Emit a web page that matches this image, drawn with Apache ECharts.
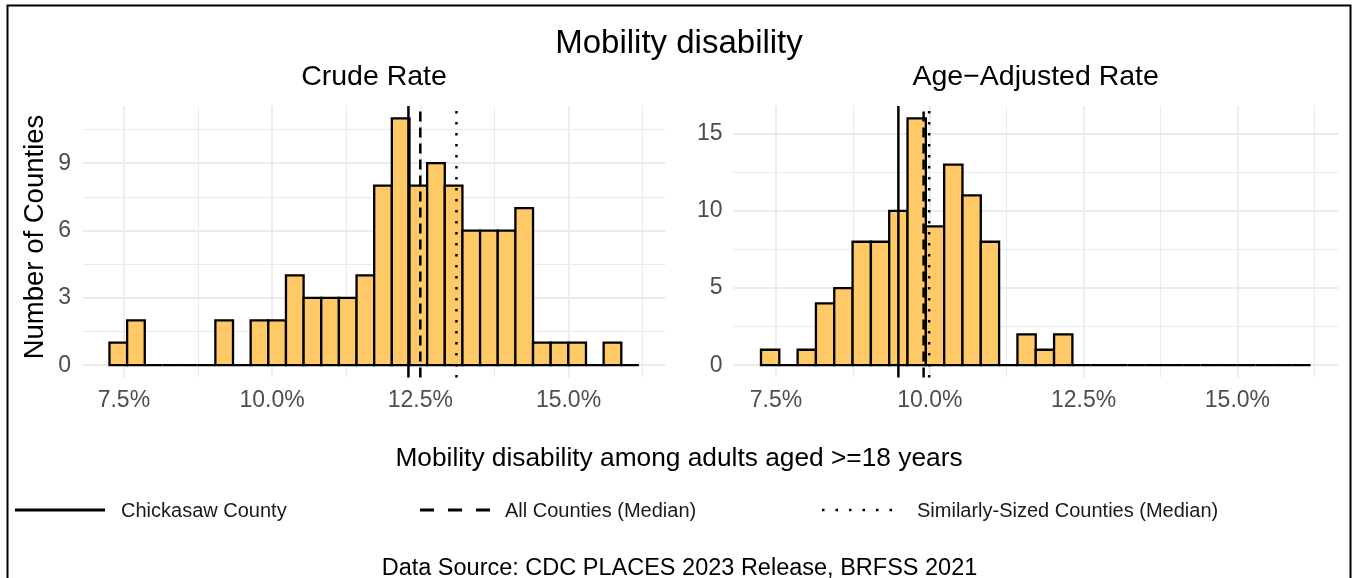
<!DOCTYPE html>
<html><head><meta charset="utf-8">
<script src="https://cdn.jsdelivr.net/npm/echarts@6/dist/echarts.min.js"></script>
<style>html,body{margin:0;padding:0;background:#fff}#c{width:1353px;height:578px}</style>
</head><body><div id="c"></div>
<script>
// ---- data ----
const binStart = 7.257;          // left edge of first histogram bin (%)
const binWidth = 0.2977;         // bin width (%)
const crudeCounts  = [1,2,0,0,0,0,2,0,2,2,4,3,3,3,4,8,11,8,9,8,6,6,6,7,1,1,1,0,1,0];
const ageAdjCounts = [1,0,1,4,5,8,8,10,16,9,13,11,8,0,2,1,2,0,0,0,0,0,0,0,0,0,0,0,0,0];
const refNames = ['Chickasaw County', 'All Counties (Median)', 'Similarly-Sized Counties (Median)'];
const crudeRefs  = [12.30, 12.50, 13.11];
const ageAdjRefs = [9.49, 9.90, 9.99];
const xTicks = [7.5, 10, 12.5, 15];
const xMinorTicks = [8.75, 11.25, 13.75, 16.25];
const crudeYTicks = [0, 3, 6, 9];
const crudeYMinor = [1.5, 4.5, 7.5, 10.5];
const ageYTicks = [0, 5, 10, 15];
const ageYMinor = [2.5, 7.5, 12.5];
const panelTitles = ['Crude Rate', 'Age\u2212Adjusted Rate'];

// ---- styling / layout ----
const FONT = 'Liberation Sans, Arial, Helvetica, sans-serif';
const GRIDC = '#EBEBEB';
const nBins = crudeCounts.length;
const lo = binStart, hi = binStart + nBins * binWidth;
const xMin = lo - 0.05 * (hi - lo), xMax = hi + 0.05 * (hi - lo);
const crudeMaxY = Math.max(...crudeCounts), ageMaxY = Math.max(...ageAdjCounts);
const yRange = m => [-0.05 * m, m * 1.05];
const dashes = ['solid', [10, 6], [2.5, 8.5]];

function xAxisMajor(g) {
  return {type:'value', gridIndex:g, min:xMin, max:xMax,
    axisLine:{show:false}, axisTick:{show:false, customValues:xTicks},
    axisLabel:{customValues:xTicks, formatter:v=>v.toFixed(1)+'%', color:'#4D4D4D', fontSize:23, fontFamily:FONT, margin:12},
    splitLine:{show:true, lineStyle:{color:GRIDC, width:1.8}}};
}
function xAxisMinor(g) {
  return {type:'value', gridIndex:g, min:xMin, max:xMax, position:'bottom',
    axisLine:{show:false}, axisTick:{show:false, customValues:xMinorTicks},
    axisLabel:{show:false, customValues:xMinorTicks},
    splitLine:{show:true, lineStyle:{color:GRIDC, width:1}}};
}
function yAxisMajor(g, range, ticks, margin) {
  return {type:'value', gridIndex:g, min:range[0], max:range[1],
    axisLine:{show:false}, axisTick:{show:false, customValues:ticks},
    axisLabel:{customValues:ticks, color:'#4D4D4D', fontSize:23, fontFamily:FONT, margin:margin},
    splitLine:{show:true, lineStyle:{color:GRIDC, width:1.8}}};
}
function yAxisMinor(g, range, ticks) {
  return {type:'value', gridIndex:g, min:range[0], max:range[1], position:'left',
    axisLine:{show:false}, axisTick:{show:false, customValues:ticks},
    axisLabel:{show:false, customValues:ticks},
    splitLine:{show:true, lineStyle:{color:GRIDC, width:1}}};
}
function histSeries(counts, xi, yi) {
  const data = counts.map((c, i) => [binStart + i * binWidth, binStart + (i + 1) * binWidth, c]);
  return {type:'custom', xAxisIndex:xi, yAxisIndex:yi, data:data, z:3, silent:true,
    encode:{x:[0,1], y:2},
    renderItem(params, api) {
      const p0 = api.coord([api.value(0), api.value(2)]);
      const p1 = api.coord([api.value(1), 0]);
      return {type:'rect', shape:{x:p0[0], y:p0[1], width:p1[0]-p0[0], height:p1[1]-p0[1]},
        style:{fill:'#FEC966', stroke:'#000', lineWidth:2.3}};
    }};
}
function refSeries(vals, xi, yi, range) {
  return vals.map((v, k) => ({type:'custom', name:refNames[k], xAxisIndex:xi, yAxisIndex:yi, z:4, silent:true,
    data:[[v]], encode:{x:0},
    renderItem(params, api) {
      const a = api.coord([api.value(0), range[0]]);
      const b = api.coord([api.value(0), range[1]]);
      return {type:'line', shape:{x1:a[0], y1:a[1], x2:b[0], y2:b[1]},
        style:{stroke:'#000', lineWidth:2.5, lineDash: dashes[k] === 'solid' ? null : dashes[k]}};
    }}));
}

const crudeRange = yRange(crudeMaxY), ageRange = yRange(ageMaxY);

const legendY = 510;
const legendItems = [
  {x1:15, x2:105, tx:121, dash:null, w:3},
  {x1:420, x2:492, tx:505, dash:[14,14], w:3},
  {x1:822, x2:902, tx:917, dash:[2.5,11], w:2.5}
];
const graphics = [
  {type:'rect', shape:{x:7.5, y:5.5, width:1343, height:600}, style:{fill:null, stroke:'#000', lineWidth:2}, z:10},
  {type:'text', x:679, y:43.5, style:{text:'Mobility disability', font:'33px '+FONT, fill:'#000', align:'center', verticalAlign:'middle'}},
  {type:'text', x:374, y:77.5, style:{text:panelTitles[0], font:'28.5px '+FONT, fill:'#000', align:'center', verticalAlign:'middle'}},
  {type:'text', x:1035.7, y:77.5, style:{text:panelTitles[1], font:'28.5px '+FONT, fill:'#000', align:'center', verticalAlign:'middle'}},
  {type:'text', x:35, y:237, rotation:Math.PI/2, style:{text:'Number of Counties', font:'27.5px '+FONT, fill:'#000', align:'center', verticalAlign:'middle'}},
  {type:'text', x:679, y:459, style:{text:'Mobility disability among adults aged >=18 years', font:'26.3px '+FONT, fill:'#000', align:'center', verticalAlign:'middle'}},
  {type:'text', x:679.5, y:569, style:{text:'Data Source: CDC PLACES 2023 Release, BRFSS 2021', font:'23.5px '+FONT, fill:'#000', align:'center', verticalAlign:'middle'}}
];
legendItems.forEach((it, k) => {
  graphics.push({type:'line', shape:{x1:it.x1, y1:legendY, x2:it.x2, y2:legendY}, style:{stroke:'#000', lineWidth:it.w, lineDash:it.dash}});
  graphics.push({type:'text', x:it.tx, y:legendY+1, style:{text:refNames[k], font:'20px '+FONT, fill:'#1A1A1A', align:'left', verticalAlign:'middle'}});
});

const chart = echarts.init(document.getElementById('c'), null, {renderer:'canvas'});
chart.setOption({
  animation:false,
  backgroundColor:'#fff',
  grid:[
    {left:83, top:106, width:582.4, height:271.5},
    {left:733.5, top:106, width:604.5, height:271.5}
  ],
  xAxis:[xAxisMajor(0), xAxisMajor(1), xAxisMinor(0), xAxisMinor(1)],
  yAxis:[yAxisMajor(0, crudeRange, crudeYTicks, 12), yAxisMajor(1, ageRange, ageYTicks, 11),
         yAxisMinor(0, crudeRange, crudeYMinor), yAxisMinor(1, ageRange, ageYMinor)],
  series:[histSeries(crudeCounts, 0, 0), histSeries(ageAdjCounts, 1, 1)]
    .concat(refSeries(crudeRefs, 0, 0, crudeRange))
    .concat(refSeries(ageAdjRefs, 1, 1, ageRange)),
  graphic:{elements:graphics}
});
</script></body></html>
